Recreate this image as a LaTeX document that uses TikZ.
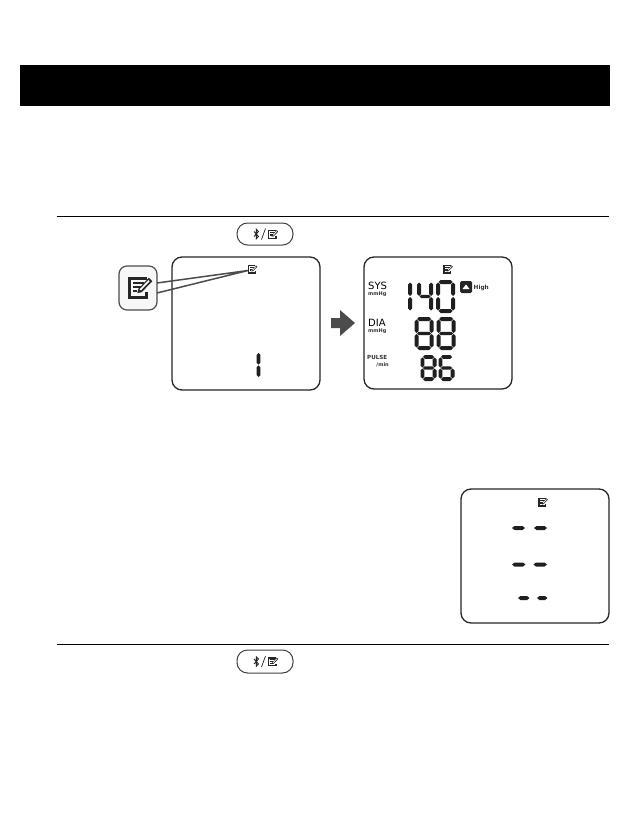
\documentclass[tikz,border=0pt]{standalone}
\usepackage{fontspec}
\setmainfont{DejaVu Sans}
\newcommand{\sgH}[4]{\fill[lcdink] (#1,#3) -- (#1+#4,#3-#4) -- (#2-#4,#3-#4) -- (#2,#3) -- (#2-#4,#3+#4) -- (#1+#4,#3+#4) -- cycle;}
\newcommand{\sgV}[4]{\fill[lcdink] (#1,#2) -- (#1+#4,#2+#4) -- (#1+#4,#3-#4) -- (#1,#3) -- (#1-#4,#3-#4) -- (#1-#4,#2+#4) -- cycle;}
% x y w h thickness segments
\newcommand{\dgt}[6]{%
 \pgfmathsetmacro{\dxa}{#1+#5}\pgfmathsetmacro{\dxb}{#1+#3-#5}
 \pgfmathsetmacro{\dya}{#2+#5}\pgfmathsetmacro{\dyb}{#2+#4/2}\pgfmathsetmacro{\dyc}{#2+#4-#5}
 \foreach \sgn in {#6}{%
  \if\sgn a\sgH{\dxa+0.5}{\dxb-0.5}{\dya}{#5}\fi
  \if\sgn g\sgH{\dxa+0.5}{\dxb-0.5}{\dyb}{#5*0.8}\fi
  \if\sgn d\sgH{\dxa+0.5}{\dxb-0.5}{\dyc}{#5}\fi
  \if\sgn b\sgV{\dxb}{\dya+0.5}{\dyb-0.5}{#5}\fi
  \if\sgn c\sgV{\dxb}{\dyb+0.5}{\dyc-0.5}{#5}\fi
  \if\sgn e\sgV{\dxa}{\dyb+0.5}{\dyc-0.5}{#5}\fi
  \if\sgn f\sgV{\dxa}{\dya+0.5}{\dyb-0.5}{#5}\fi
 }}
% note icon: centre x y, scale
\newcommand{\noteicon}[3]{%
 \begin{scope}[shift={(#1,#2)},x=#3pt,y=-#3pt,line join=miter]
  \draw[line width=#3*1.8pt,draw=black!85] (4,-5) -- (-6,-5) -- (-6,6) -- (4,6) -- (4,3);
  \draw[line width=#3*1.1pt,draw=black!85] (-4,-2.4) -- (2.5,-2.4) (-4,0) -- (0.5,0) (-4,2.4) -- (-1.5,2.4);
  \fill[black!85] (-1.6,3.6) -- (-0.9,1) -- (5.2,-5.4) -- (7.2,-3.4) -- (1,3) -- cycle;
  \fill[white] (-0.2,1.3) -- (4.9,-4) -- (5.6,-3.3) -- (0.5,2) -- cycle;
 \end{scope}}
% bluetooth + slash + note on a button: centre x y
\newcommand{\btnface}[2]{%
 \begin{scope}[shift={(#1,#2)}]
  \draw[line width=0.9pt,black!85] (-11,2.5) -- (-6.5,-2.5) -- (-8.7,-4.8) -- (-8.7,4.8) -- (-6.5,2.5) -- (-11,-2.5);
  \draw[line width=0.7pt,black!85] (-3.5,5.5) -- (0.5,-5.5);
  \noteicon{8}{0}{0.72}
 \end{scope}}
\colorlet{lcdink}{black!88}
\tikzset{
 lcd/.style={draw=black!85,line width=1.3pt,rounded corners=10pt,fill=white},
 rulep/.style={line width=0.9pt,draw=black},
 btn/.style={draw=black!75,line width=1pt,rounded corners=10.5pt,fill=white},
 lead/.style={draw=black!70,line width=1.5pt},
 bigl/.style={font=\fontsize{10}{11}\selectfont,inner sep=0pt,anchor=west,text=black},
 tinyl/.style={font=\fontsize{5}{6}\selectfont\bfseries,inner sep=0pt,text=black!80},
}
\begin{document}
\begin{tikzpicture}[x=1pt,y=-1pt]
\useasboundingbox (0,0) rectangle (630,824);
\fill[white] (0,0) rectangle (630,824);
\fill[black] (20,65) rectangle (610,106);
\coordinate (r1a) at (57,216); \coordinate (r1b) at (609,216);
\coordinate (r2a) at (57,644); \coordinate (r2b) at (609,644);
\draw[rulep] (r1a) -- (r1b);
\draw[rulep] (r2a) -- (r2b);
% buttons
\draw[btn] (237,223) rectangle (293,245); \btnface{265}{234}
\draw[btn] (237,650) rectangle (293,673); \btnface{265}{661.5}
% left LCD
\draw[lcd] (172,257) rectangle (320,390);
\noteicon{252.5}{269}{0.68}
\sgV{258.5}{353}{364.6}{1.9}
\sgV{258.5}{365.4}{377}{1.9}
% callout
\node[draw=black!70,line width=1.2pt,rounded corners=8pt,fill=black!3,minimum width=38pt,minimum height=44pt,inner sep=0pt] (call) at (138,288) {};
\noteicon{140}{287}{1.72}
\coordinate (tip) at (248,270.5);
\coordinate (calla) at (157,283);
\coordinate (callb) at (157,293);
\draw[lead] (calla) -- (tip) -- (callb);
% arrow
\fill[black!70] (331,318) -- (340,318) -- (340,310) -- (355,323) -- (340,336) -- (340,328) -- (331,328) -- cycle;
% right LCD
\draw[lcd] (364,257) rectangle (512,389);
\noteicon{448}{269}{0.68}
\node[bigl] (sys) at (368,285.5) {SYS};
\node[tinyl,anchor=west] (sysu) at (368,294) {mmHg};
\node[bigl] (dia) at (368,323) {DIA};
\node[tinyl,anchor=west] (diau) at (368,331.5) {mmHg};
\node[tinyl,anchor=west,font=\fontsize{5.6}{6}\selectfont\bfseries] (pul) at (367,357.5) {PULSE};
\node[tinyl,anchor=east] (minu) at (389,365) {/min};
\dgt{401}{280}{11}{33}{2}{b,c}
\dgt{417}{280}{16}{33}{2}{f,g,b,c}
\dgt{436}{280}{19}{33}{2}{a,b,c,d,e,f}
\dgt{414.5}{317}{19}{33}{2}{a,b,c,d,e,f,g}
\dgt{436.5}{317}{19}{33}{2}{a,b,c,d,e,f,g}
\dgt{420.5}{355}{16}{26}{1.9}{a,b,c,d,e,f,g}
\dgt{438.5}{355}{16}{26}{1.9}{a,c,d,e,f,g}
\fill[black!85,rounded corners=1.5pt] (460,281) rectangle (472,293);
\fill[white] (462.5,289) -- (466,284.5) -- (469.5,289) -- cycle;
\node[tinyl,anchor=west,font=\fontsize{5.8}{6}\selectfont\bfseries] (high) at (473.5,287.5) {High};
% third LCD
\draw[lcd] (461,489) rectangle (609,623);
\noteicon{543}{502}{0.68}
\foreach \xa/\xb/\yy in {512/525/528,534/547/528,512/525.5/564.5,533.5/547/564.5,518/529.5/598,537/547.5/598}{
  \fill[lcdink] (\xa,\yy) -- (\xa+2.5,\yy-2) -- (\xb-2.5,\yy-2) -- (\xb,\yy) -- (\xb-2.5,\yy+2) -- (\xa+2.5,\yy+2) -- cycle;
}
\end{tikzpicture}
\end{document}
